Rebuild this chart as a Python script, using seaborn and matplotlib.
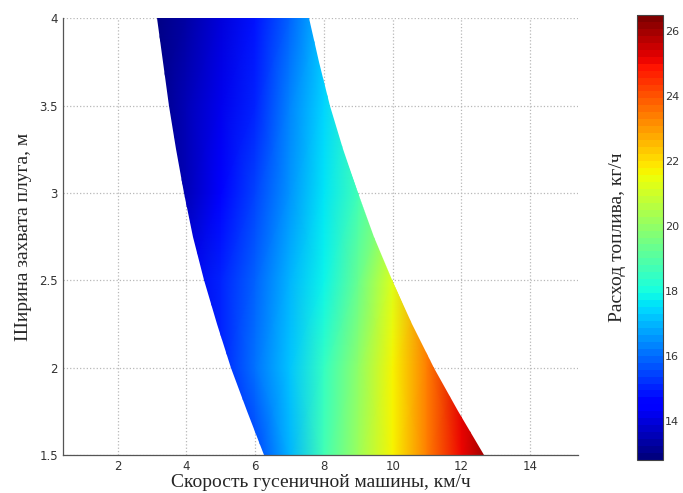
import numpy as np
import matplotlib
matplotlib.use("Agg")
import matplotlib.pyplot as plt
from matplotlib.patches import Polygon
from matplotlib.colors import Normalize
import seaborn as sns

# grid of fuel consumption
speeds = [3, 4, 5, 6, 7, 8, 9, 10, 11, 12, 13]          # km/h
widths = [1.5, 2.0, 2.5, 3.0, 3.5, 4.0]                 # m
fuel_w15 = [13.4, 14.0, 14.7, 15.5, 17.0, 18.7, 20.2, 21.6, 23.3, 25.1, 27.0]
fuel_w20 = [13.3, 14.0, 15.1, 16.1, 17.2, 18.4, 20.0, 21.6, 23.4, 25.3, 27.2]
fuel_w25 = [13.2, 14.2, 15.0, 16.0, 17.0, 17.9, 19.4, 21.3, 23.3, 25.2, 27.0]
fuel_w30 = [13.0, 13.6, 14.4, 15.4, 16.5, 17.6, 18.6, 19.8, 21.5, 23.5, 25.5]
fuel_w35 = [12.9, 13.5, 14.2, 15.1, 16.3, 17.4, 18.6, 19.8, 21.2, 22.8, 24.5]
fuel_w40 = [12.8, 13.3, 14.0, 14.9, 16.0, 17.2, 18.4, 19.6, 21.0, 22.5, 24.0]

# boundaries of the feasible region (speed limits at each width)
edge_widths = [1.5, 1.75, 2.0, 2.25, 2.5, 2.75, 3.0, 3.25, 3.5, 3.75, 4.0]
speed_min = [6.25, 5.76, 5.30, 4.88, 4.50, 4.18, 3.92, 3.70, 3.50, 3.32, 3.15]
speed_max = [12.65, 11.9, 11.2, 10.55, 9.97, 9.45, 8.98, 8.56, 8.18, 7.85, 7.56]

fuel = np.array([fuel_w15, fuel_w20, fuel_w25, fuel_w30, fuel_w35, fuel_w40])

sns.set_style("white")
plt.rcParams["font.family"] = ["DejaVu Sans"]

fig = plt.figure(figsize=(6.83, 4.93), dpi=100)
ax = fig.add_axes([0.0918, 0.0771, 0.7549, 0.8858])
cax = fig.add_axes([0.9327, 0.0669, 0.0380, 0.9027])

cmap = plt.get_cmap("jet", 64)
norm = Normalize(vmin=12.8, vmax=26.5)

mesh = ax.pcolormesh(speeds, widths, fuel, cmap=cmap, norm=norm,
                     shading="gouraud", zorder=2)
region = Polygon(list(zip(speed_min, edge_widths)) +
                 list(zip(speed_max[::-1], edge_widths[::-1])),
                 closed=True, transform=ax.transData, facecolor="none",
                 edgecolor="none")
ax.add_patch(region)
mesh.set_clip_path(region)

ax.set_xlim(0.4, 15.4)
ax.set_ylim(1.5, 4)
ax.set_xticks([2, 4, 6, 8, 10, 12, 14])
ax.set_yticks([1.5, 2, 2.5, 3, 3.5, 4])
ax.set_yticklabels(["1.5", "2", "2.5", "3", "3.5", "4"])
ax.grid(True, linestyle=":", color="#b8b8b8", linewidth=0.9, zorder=0)
ax.set_axisbelow(True)
sns.despine(ax=ax)
for s in ["left", "bottom"]:
    ax.spines[s].set_color("#555555")
    ax.spines[s].set_linewidth(0.9)
ax.tick_params(direction="in", length=4, labelsize=8.5, colors="#333333",
               width=0.8)

serif = ["Liberation Serif", "DejaVu Serif"]
ax.set_xlabel("Скорость гусеничной машины, км/ч", family=serif, fontsize=14,
              labelpad=1)
ax.set_ylabel("Ширина захвата плуга, м", family=serif, fontsize=14,
              labelpad=5)

sm = plt.cm.ScalarMappable(cmap=cmap, norm=norm)
cbar = fig.colorbar(sm, cax=cax)
cbar.set_ticks([14, 16, 18, 20, 22, 24, 26])
cbar.ax.tick_params(direction="in", length=3, labelsize=8, colors="#333333",
                    width=0.8, pad=1.5)
cbar.outline.set_linewidth(0.8)
cbar.outline.set_edgecolor("#444444")
cbar.ax.yaxis.set_label_position("left")
cbar.set_label("Расход топлива, кг/ч", family=serif, fontsize=14, labelpad=8)

fig.savefig("out.png", dpi=100)
